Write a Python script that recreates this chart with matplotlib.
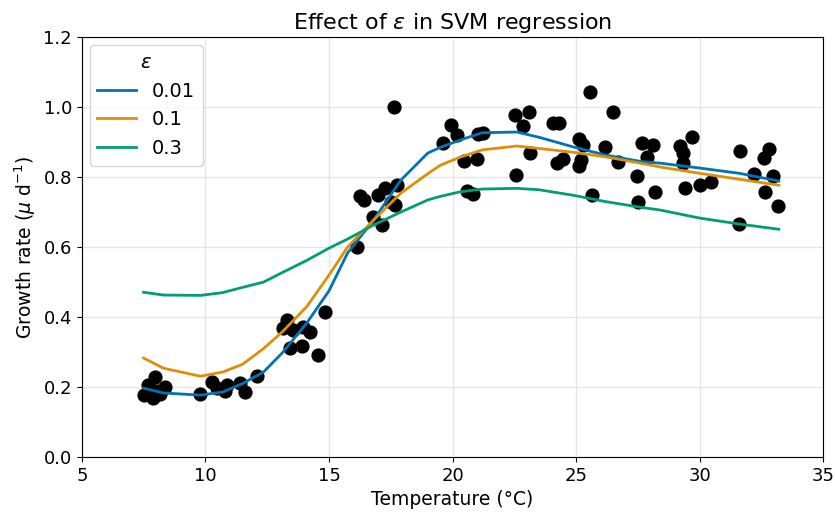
import matplotlib
matplotlib.use("Agg")
import matplotlib.pyplot as plt

# Observations: temperature (°C) and growth rate (µ d^-1)
temperature = [7.50, 7.67, 7.96, 7.88, 8.05, 8.36, 8.15, 9.78, 10.27, 10.47, 10.80, 10.87, 11.40, 11.60, 12.09,
               13.15, 13.30, 13.55, 13.43, 13.92, 13.96, 14.23, 14.57, 14.85,
               16.15, 16.25, 16.40, 16.80, 17.00, 17.15, 17.25, 17.50, 17.69, 17.77, 17.65,
               19.60, 19.94, 20.18, 20.47, 20.58, 20.83, 20.99, 21.03, 21.23, 22.53, 22.85, 23.10, 22.57, 23.14,
               24.07, 24.30, 24.23, 24.47, 25.10, 25.27, 25.20, 25.10, 25.55, 25.65, 26.15, 26.50, 26.70,
               27.47, 27.51, 27.67, 27.87, 28.12, 28.20, 29.20, 29.33, 29.33, 29.41, 29.70, 30.02, 30.46,
               31.60, 31.64, 32.20, 32.60, 32.65, 32.81, 32.97, 33.18]
growth = [0.178, 0.205, 0.229, 0.168, 0.190, 0.200, 0.180, 0.180, 0.214, 0.197, 0.190, 0.206, 0.211, 0.186, 0.231,
          0.369, 0.391, 0.363, 0.311, 0.317, 0.371, 0.357, 0.291, 0.414,
          0.600, 0.745, 0.735, 0.686, 0.749, 0.663, 0.769, 0.729, 0.720, 0.777, 1.000,
          0.897, 0.949, 0.920, 0.846, 0.760, 0.751, 0.851, 0.923, 0.926, 0.977, 0.946, 0.986, 0.806, 0.869,
          0.954, 0.954, 0.840, 0.851, 0.909, 0.891, 0.849, 0.831, 1.043, 0.749, 0.886, 0.986, 0.843,
          0.803, 0.729, 0.897, 0.857, 0.891, 0.757, 0.889, 0.869, 0.840, 0.769, 0.914, 0.777, 0.786,
          0.666, 0.874, 0.809, 0.854, 0.757, 0.880, 0.803, 0.717]

# SVR predictions for each epsilon
curve_x = [7.5, 8.3, 9.8, 10.7, 11.5, 12.35, 13.1, 14.1, 15.0, 15.75, 16.8, 17.9, 19.0,
           19.5, 20.3, 21.2, 22.6, 23.5, 24.9, 26.2, 27.6, 28.4, 30.0, 31.6, 33.2]
pred_001 = [0.197, 0.183, 0.177, 0.186, 0.210, 0.243, 0.297, 0.383, 0.475, 0.583, 0.677, 0.791, 0.869,
            0.885, 0.906, 0.927, 0.929, 0.914, 0.886, 0.863, 0.845, 0.840, 0.826, 0.811, 0.789]
pred_01 = [0.283, 0.254, 0.231, 0.243, 0.265, 0.310, 0.357, 0.430, 0.520, 0.600, 0.677, 0.754, 0.810,
           0.834, 0.857, 0.878, 0.889, 0.882, 0.871, 0.858, 0.840, 0.829, 0.811, 0.794, 0.777]
pred_03 = [0.471, 0.463, 0.462, 0.470, 0.485, 0.500, 0.527, 0.562, 0.597, 0.623, 0.663, 0.700, 0.735,
           0.745, 0.758, 0.766, 0.768, 0.764, 0.748, 0.730, 0.714, 0.706, 0.683, 0.666, 0.651]

epsilons = ["0.01", "0.1", "0.3"]
colors = ["#0173b2", "#de8f05", "#029e73"]

fig = plt.figure(figsize=(8.35, 5.17), dpi=100)
ax = fig.add_axes([0.098, 0.116, 0.888, 0.812])

ax.scatter(temperature, growth, s=85, color="black", zorder=2)
for preds, eps, c in zip([pred_001, pred_01, pred_03], epsilons, colors):
    ax.plot(curve_x, preds, color=c, lw=2, label=eps, zorder=3)

ax.set_xlim(5, 35)
ax.set_ylim(0, 1.2)
ax.set_xticks([5, 10, 15, 20, 25, 30, 35])
ax.set_yticks([0.0, 0.2, 0.4, 0.6, 0.8, 1.0, 1.2])
ax.grid(True, color="#e6e6e6", lw=1)
ax.set_axisbelow(True)
ax.tick_params(labelsize=13)

ax.set_title(r"Effect of $\varepsilon$ in SVM regression", fontsize=16)
ax.set_xlabel("Temperature (°C)", fontsize=13.5)
ax.set_ylabel(r"Growth rate ($\mu$ d$^{-1}$)", fontsize=13.5)

leg = ax.legend(title=r"$\varepsilon$", loc="upper left", fontsize=14, title_fontsize=14,
                labelspacing=0.5, borderaxespad=0.4)

fig.savefig("out.png", dpi=100)
